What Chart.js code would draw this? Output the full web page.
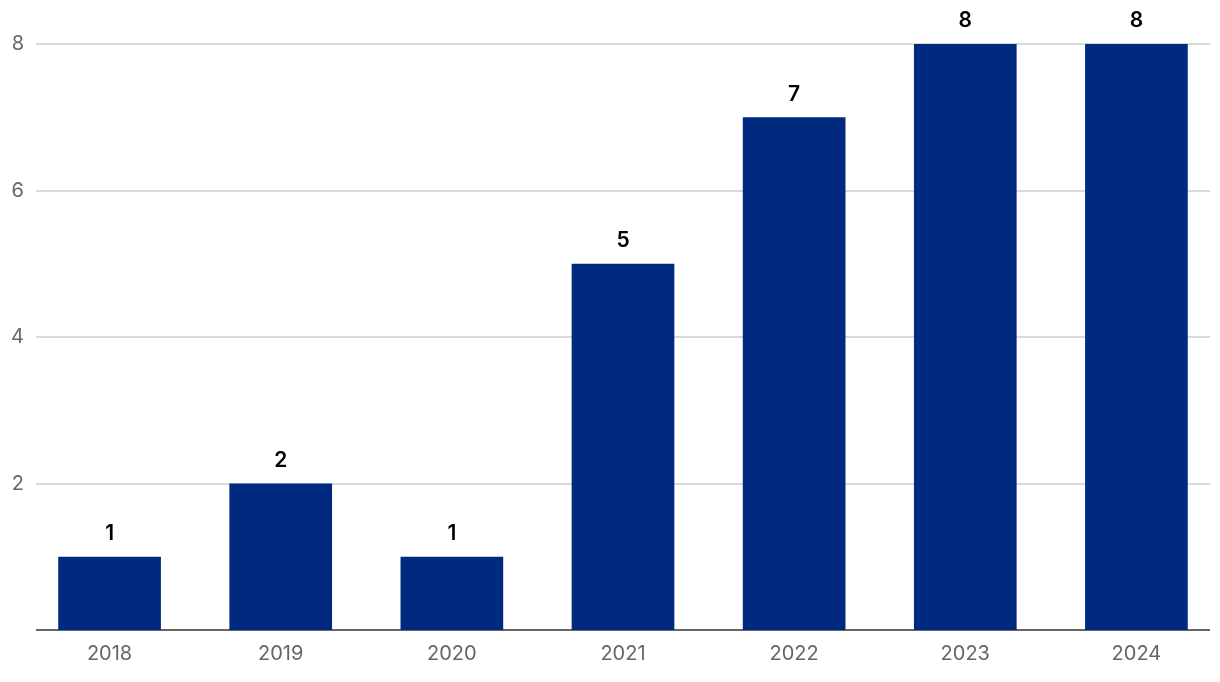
<!DOCTYPE html>
<html>
<head>
<meta charset="utf-8">
<script src="https://cdn.jsdelivr.net/npm/chart.js@4"></script>
<style>
  html, body { margin: 0; padding: 0; background: #fff; overflow: hidden; }
  #wrap { width: 1222px; height: 682px; position: relative; }
</style>
</head>
<body>
<div id="wrap"><canvas id="chart"></canvas></div>
<script>
// data
const years = ['2018', '2019', '2020', '2021', '2022', '2023', '2024'];
const counts = [1, 2, 1, 5, 7, 8, 8];
const yTicks = [0, 2, 4, 6, 8];

const GRID_LEFT = 36, GRID_RIGHT = 1210;

// horizontal grid + baseline, drawn shorter than the chart area like the original
const gridLines = {
    id: 'gridLines',
    beforeDatasetsDraw(chart) {
        const { ctx, scales: { y } } = chart;
        ctx.save();
        yTicks.forEach(v => {
            const py = Math.round(y.getPixelForValue(v));
            ctx.beginPath();
            ctx.strokeStyle = v === 0 ? '#666666' : '#d9d9d9';
            ctx.lineWidth = 2;
            ctx.moveTo(GRID_LEFT, py);
            ctx.lineTo(GRID_RIGHT, py);
            ctx.stroke();
        });
        ctx.restore();
    }
};

// value labels above each bar
const barValues = {
    id: 'barValues',
    afterDatasetsDraw(chart) {
        const { ctx } = chart;
        const meta = chart.getDatasetMeta(0);
        ctx.save();
        ctx.font = '600 21px Inter';
        ctx.fillStyle = '#000';
        ctx.textAlign = 'center';
        ctx.textBaseline = 'middle';
        meta.data.forEach((bar, i) => {
            ctx.fillText(counts[i], bar.x, bar.y - 23);
        });
        ctx.restore();
    }
};

new Chart(document.getElementById('chart'), {
    type: 'bar',
    data: {
        labels: years,
        datasets: [{
            data: counts,
            backgroundColor: '#002a7f',
            barPercentage: 0.6,
            categoryPercentage: 1
        }]
    },
    options: {
        responsive: true, maintainAspectRatio: false,
        animation: false,
        layout: { padding: { top: 44, right: 0, left: 0, bottom: 0 } },
        plugins: { legend: { display: false }, tooltip: { enabled: false } },
        scales: {
            x: {
                grid: { display: false, drawTicks: false },
                border: { display: false },
                ticks: { color: '#666', font: { family: 'Inter', size: 20 }, padding: 12 },
                afterFit: s => { s.height = 52; }
            },
            y: {
                min: 0, max: 8,
                grid: { display: false, drawTicks: false },
                border: { display: false },
                ticks: {
                    stepSize: 2, padding: 0, color: '#666',
                    font: { family: 'Inter', size: 20 },
                    callback: v => v === 0 ? '' : v
                },
                afterFit: s => { s.width = 24; }
            }
        }
    },
    plugins: [gridLines, barValues]
});
</script>
</body>
</html>
